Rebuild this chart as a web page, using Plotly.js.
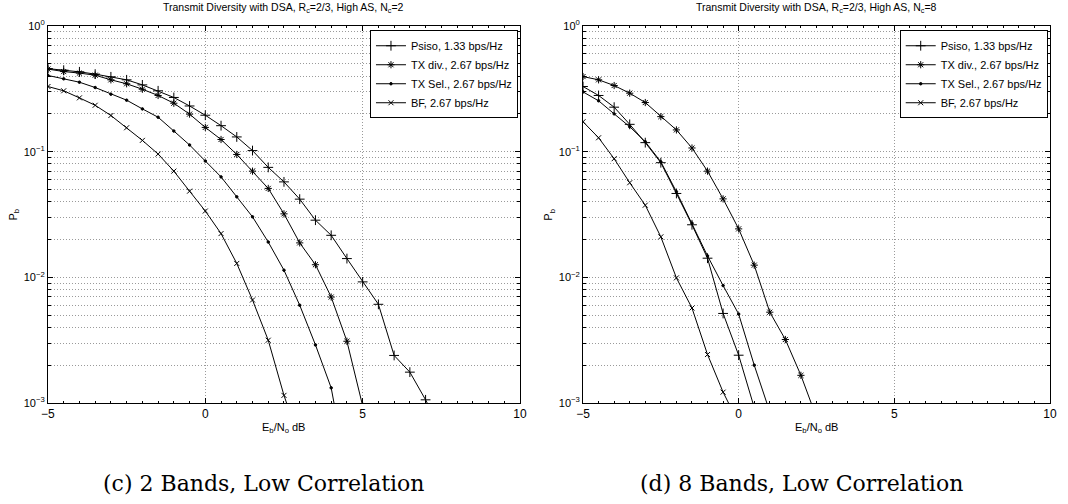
<!DOCTYPE html>
<html>
<head>
<meta charset="utf-8">
<script src="https://cdn.plot.ly/plotly-3.0.1.min.js"></script>
<style>
  html, body { margin: 0; padding: 0; background: #fff; }
  #chart { width: 1068px; height: 504px; }
</style>
</head>
<body>
<div id="chart"></div>
<script>
// Eb/No grid (dB)
const ebno = [-5, -4.5, -4, -3.5, -3, -2.5, -2, -1.5, -1, -0.5, 0, 0.5, 1, 1.5, 2, 2.5, 3, 3.5, 4, 4.5, 5, 5.5, 6, 6.5, 7, 7.5];

const seriesNames = ['Psiso, 1.33 bps/Hz', 'TX div., 2.67 bps/Hz', 'TX Sel., 2.67 bps/Hz', 'BF, 2.67 bps/Hz'];

// (c) 2 Bands, Nc = 2
const psisoL = [0.458, 0.445, 0.432, 0.414, 0.394, 0.373, 0.340, 0.305, 0.270, 0.231, 0.195, 0.161, 0.131, 0.102, 0.075, 0.0575, 0.0419, 0.0285, 0.0216, 0.0141, 0.0092, 0.0061, 0.00239, 0.00176, 0.00106, 0.0006];
const txDivL = [0.454, 0.434, 0.422, 0.406, 0.373, 0.347, 0.314, 0.280, 0.243, 0.199, 0.156, 0.125, 0.095, 0.070, 0.051, 0.032, 0.0188, 0.0126, 0.00697, 0.0031, 0.00095];
const txSelL = [0.404, 0.380, 0.357, 0.324, 0.287, 0.257, 0.219, 0.188, 0.146, 0.113, 0.0843, 0.063, 0.0437, 0.0303, 0.0191, 0.0114, 0.0060, 0.0029, 0.00132, 0.00028];
const bfL    = [0.330, 0.305, 0.268, 0.234, 0.194, 0.155, 0.123, 0.0958, 0.070, 0.0485, 0.0337, 0.0223, 0.0129, 0.0066, 0.00316, 0.00115, 0.00049];

// (d) 8 Bands, Nc = 8
const psisoR = [0.330, 0.280, 0.226, 0.165, 0.118, 0.0817, 0.0465, 0.0262, 0.0142, 0.00516, 0.0024, 0.00092];
const txDivR = [0.396, 0.373, 0.336, 0.292, 0.246, 0.190, 0.149, 0.107, 0.070, 0.0421, 0.0243, 0.0125, 0.00528, 0.0032, 0.00166, 0.00077];
const txSelR = [0.299, 0.254, 0.200, 0.158, 0.120, 0.083, 0.048, 0.027, 0.0148, 0.0086, 0.0051, 0.0020, 0.00085];
const bfR    = [0.173, 0.129, 0.0879, 0.0566, 0.0375, 0.021, 0.0099, 0.0057, 0.00243, 0.00122, 0.00069];

const xTickVals = [-5, 0, 5, 10];
const xTickText = ['\u22125', '0', '5', '10'];
const yTickVals = [1, 0.1, 0.01, 0.001];
const yTickText = ['10<sup>0</sup>', '10<sup>\u22121</sup>', '10<sup>\u22122</sup>', '10<sup>\u22123</sup>'];

const titleLeft = 'Transmit Diversity with DSA, R<sub>c</sub>=2/3, High AS, N<sub>c</sub>=2';
const titleRight = 'Transmit Diversity with DSA, R<sub>c</sub>=2/3, High AS, N<sub>c</sub>=8';
const captionLeft = '(c) 2 Bands, Low Correlation';
const captionRight = '(d) 8 Bands, Low Correlation';
const xLabel = 'E<sub>b</sub>/N<sub>o</sub> dB';
const yLabel = 'P<sub>b</sub>';

const styles = [
  {symbol: 'cross-thin-open', size: 7},
  {symbol: 'asterisk-open', size: 6},
  {symbol: 'circle', size: 2.5},
  {symbol: 'x-thin-open', size: 5}
];

function makeTrace(vals, idx, xa, ya, legendId) {
  const st = styles[idx];
  return {
    x: ebno.slice(0, vals.length),
    y: vals,
    type: 'scatter',
    mode: 'lines+markers',
    name: seriesNames[idx],
    xaxis: xa, yaxis: ya,
    legend: legendId,
    line: {color: '#000', width: 1},
    marker: {symbol: st.symbol, size: st.size, color: '#000', line: {color: '#000', width: 1}}
  };
}

const traces = [
  makeTrace(psisoL, 0, 'x', 'y', 'legend'),
  makeTrace(txDivL, 1, 'x', 'y', 'legend'),
  makeTrace(txSelL, 2, 'x', 'y', 'legend'),
  makeTrace(bfL, 3, 'x', 'y', 'legend'),
  makeTrace(psisoR, 0, 'x2', 'y2', 'legend2'),
  makeTrace(txDivR, 1, 'x2', 'y2', 'legend2'),
  makeTrace(txSelR, 2, 'x2', 'y2', 'legend2'),
  makeTrace(bfR, 3, 'x2', 'y2', 'legend2')
];

const FONT = 'Liberation Sans, Arial, sans-serif';
const gridCol = '#9a9a9a';
const gridDash = '1px,2px';

function xAxis(domain, anchor) {
  return {
    domain: domain, anchor: anchor,
    range: [-5, 10], tickvals: xTickVals, ticktext: xTickText,
    ticks: 'inside', ticklen: 5, tickcolor: '#000',
    showline: true, linecolor: '#000', linewidth: 1, mirror: 'allticks',
    showgrid: true, gridcolor: gridCol, griddash: gridDash, gridwidth: 1,
    zeroline: false,
    tickfont: {family: FONT, size: 12, color: '#000'},
    minor: {dtick: 0.5, ticklen: 2, ticks: 'inside', tickcolor: '#000', showgrid: false}
  };
}
function yAxis(domain, anchor) {
  return {
    domain: domain, anchor: anchor,
    type: 'log', range: [-3, 0],
    tickvals: yTickVals, ticktext: yTickText,
    ticks: 'inside', ticklen: 5, tickcolor: '#000',
    showline: true, linecolor: '#000', linewidth: 1, mirror: 'allticks',
    showgrid: true, gridcolor: gridCol, griddash: gridDash, gridwidth: 1,
    zeroline: false,
    tickfont: {family: FONT, size: 11, color: '#000'},
    minor: {dtick: 'D1', ticklen: 3, ticks: 'inside', tickcolor: '#000',
            showgrid: true, gridcolor: gridCol, griddash: gridDash, gridwidth: 1}
  };
}

const yDom = [0.2004, 0.9484];
const legendStyle = {
  bgcolor: '#fff', bordercolor: '#000', borderwidth: 1,
  font: {family: FONT, size: 11, color: '#000'},
  xanchor: 'right', yanchor: 'top', tracegroupgap: 0,
  itemwidth: 30
};

const layout = {
  width: 1068, height: 504,
  margin: {l: 0, r: 0, t: 0, b: 0},
  paper_bgcolor: '#fff', plot_bgcolor: '#fff',
  showlegend: true,
  xaxis: xAxis([0.0449, 0.4869], 'y'),
  yaxis: yAxis(yDom, 'x'),
  xaxis2: xAxis([0.5459, 0.9831], 'y2'),
  yaxis2: yAxis(yDom, 'x2'),
  legend: Object.assign({x: 0.485, y: 0.940}, legendStyle),
  legend2: Object.assign({x: 0.981, y: 0.940}, legendStyle),
  annotations: [
    {text: titleLeft, xref: 'paper', yref: 'paper', x: 0.2659, y: 0.966, xanchor: 'center', yanchor: 'bottom', showarrow: false, font: {family: FONT, size: 10.5, color: '#000'}},
    {text: titleRight, xref: 'paper', yref: 'paper', x: 0.7645, y: 0.966, xanchor: 'center', yanchor: 'bottom', showarrow: false, font: {family: FONT, size: 10.5, color: '#000'}},
    {text: xLabel, xref: 'paper', yref: 'paper', x: 0.2659, y: 0.168, xanchor: 'center', yanchor: 'top', showarrow: false, font: {family: FONT, size: 11, color: '#000'}},
    {text: xLabel, xref: 'paper', yref: 'paper', x: 0.7645, y: 0.168, xanchor: 'center', yanchor: 'top', showarrow: false, font: {family: FONT, size: 11, color: '#000'}},
    {text: yLabel, xref: 'paper', yref: 'paper', x: 0.013, y: 0.574, xanchor: 'center', yanchor: 'middle', textangle: -90, showarrow: false, font: {family: FONT, size: 11, color: '#000'}},
    {text: yLabel, xref: 'paper', yref: 'paper', x: 0.514, y: 0.574, xanchor: 'center', yanchor: 'middle', textangle: -90, showarrow: false, font: {family: FONT, size: 11, color: '#000'}},
    {text: captionLeft, xref: 'paper', yref: 'paper', x: 0.247, y: 0.012, xanchor: 'center', yanchor: 'bottom', showarrow: false, font: {family: 'DejaVu Serif, serif', size: 22, color: '#000'}},
    {text: captionRight, xref: 'paper', yref: 'paper', x: 0.750, y: 0.012, xanchor: 'center', yanchor: 'bottom', showarrow: false, font: {family: 'DejaVu Serif, serif', size: 22, color: '#000'}}
  ]
};

Plotly.newPlot('chart', traces, layout, {displayModeBar: false, staticPlot: true});
</script>
</body>
</html>
